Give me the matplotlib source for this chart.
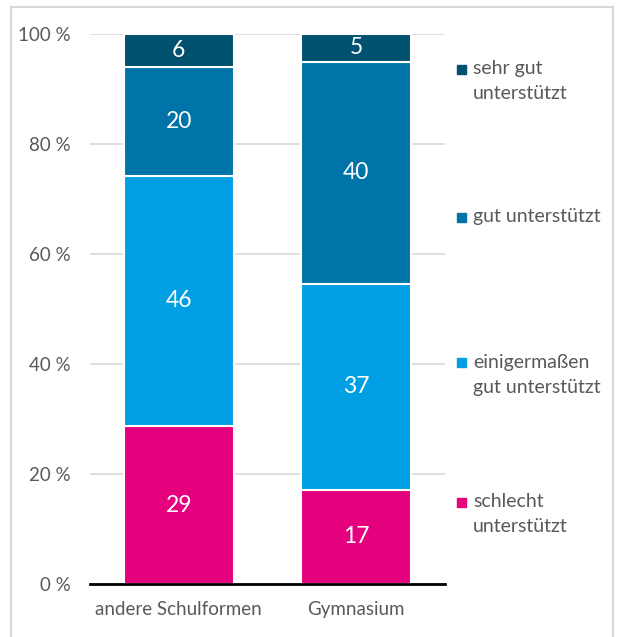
import matplotlib.pyplot as plt
from matplotlib.patches import Rectangle
import numpy as np

plt.rcParams['font.family'] = ['Lato', 'DejaVu Sans']

categories = ["andere Schulformen", "Gymnasium"]
series_names = ["schlecht\nunterstützt", "einigermaßen\ngut unterstützt",
                "gut unterstützt", "sehr gut\nunterstützt"]
schlecht = [29, 17]
einigermassen = [46, 37]
gut = [20, 40]
sehr_gut = [6, 5]
yticks = [0, 20, 40, 60, 80, 100]

colors = ["#E5007D", "#009FE3", "#0073A8", "#00506F"]

values = np.array([schlecht, einigermassen, gut, sehr_gut], dtype=float)
shares = values / values.sum(axis=0) * 100

fig = plt.figure(figsize=(6.17, 6.37), dpi=100)
ax = fig.add_axes([90 / 617, 1 - 584 / 637, 355 / 617, 550 / 637])

x = np.arange(len(categories))
bottom = np.zeros(len(categories))
for i in range(len(series_names)):
    bars = ax.bar(x, shares[i], 0.62, bottom=bottom, color=colors[i],
                  edgecolor="white", linewidth=1.5, zorder=3)
    for j, b in enumerate(bars):
        ax.text(b.get_x() + b.get_width() / 2, bottom[j] + shares[i][j] / 2,
                "%d" % values[i][j], ha="center", va="center",
                color="white", fontsize=16.5, zorder=4)
    bottom += shares[i]

ax.set_xlim(-0.5, 1.5)
ax.set_ylim(0, 100)
ax.set_yticks(yticks)
ax.set_yticklabels(["%d %%" % t for t in yticks], fontsize=13.5, color="#595959")
ax.set_xticks(x)
ax.set_xticklabels(categories, fontsize=13.5, color="#595959")
ax.tick_params(axis="y", length=0, pad=14)
ax.tick_params(axis="x", length=0, pad=12)
ax.grid(axis="y", color="#D9D9D9", linewidth=1.2, zorder=0)
for s in ["top", "right", "left"]:
    ax.spines[s].set_visible(False)
ax.spines["bottom"].set_linewidth(2)
ax.spines["bottom"].set_zorder(5)

# legend, placed like the original
legend_y = [69, 217, 363, 502]
for name, c, yy in zip(series_names[::-1], colors[::-1], legend_y):
    fig.add_artist(Rectangle((457 / 617, 1 - (yy + 4.5) / 637), 9 / 617, 9 / 637,
                             color=c, transform=fig.transFigure))
    fig.text(473 / 617, 1 - (yy - 9) / 637, name, ha="left", va="top",
             fontsize=14, color="#595959", linespacing=1.6)

# chart frame
fig.add_artist(Rectangle((11 / 617, -0.05), 602 / 617, 1.05 - 7 / 637,
                         fill=False, edgecolor="#D9D9D9", linewidth=1.5,
                         transform=fig.transFigure))

plt.savefig("out.png", dpi=100)
